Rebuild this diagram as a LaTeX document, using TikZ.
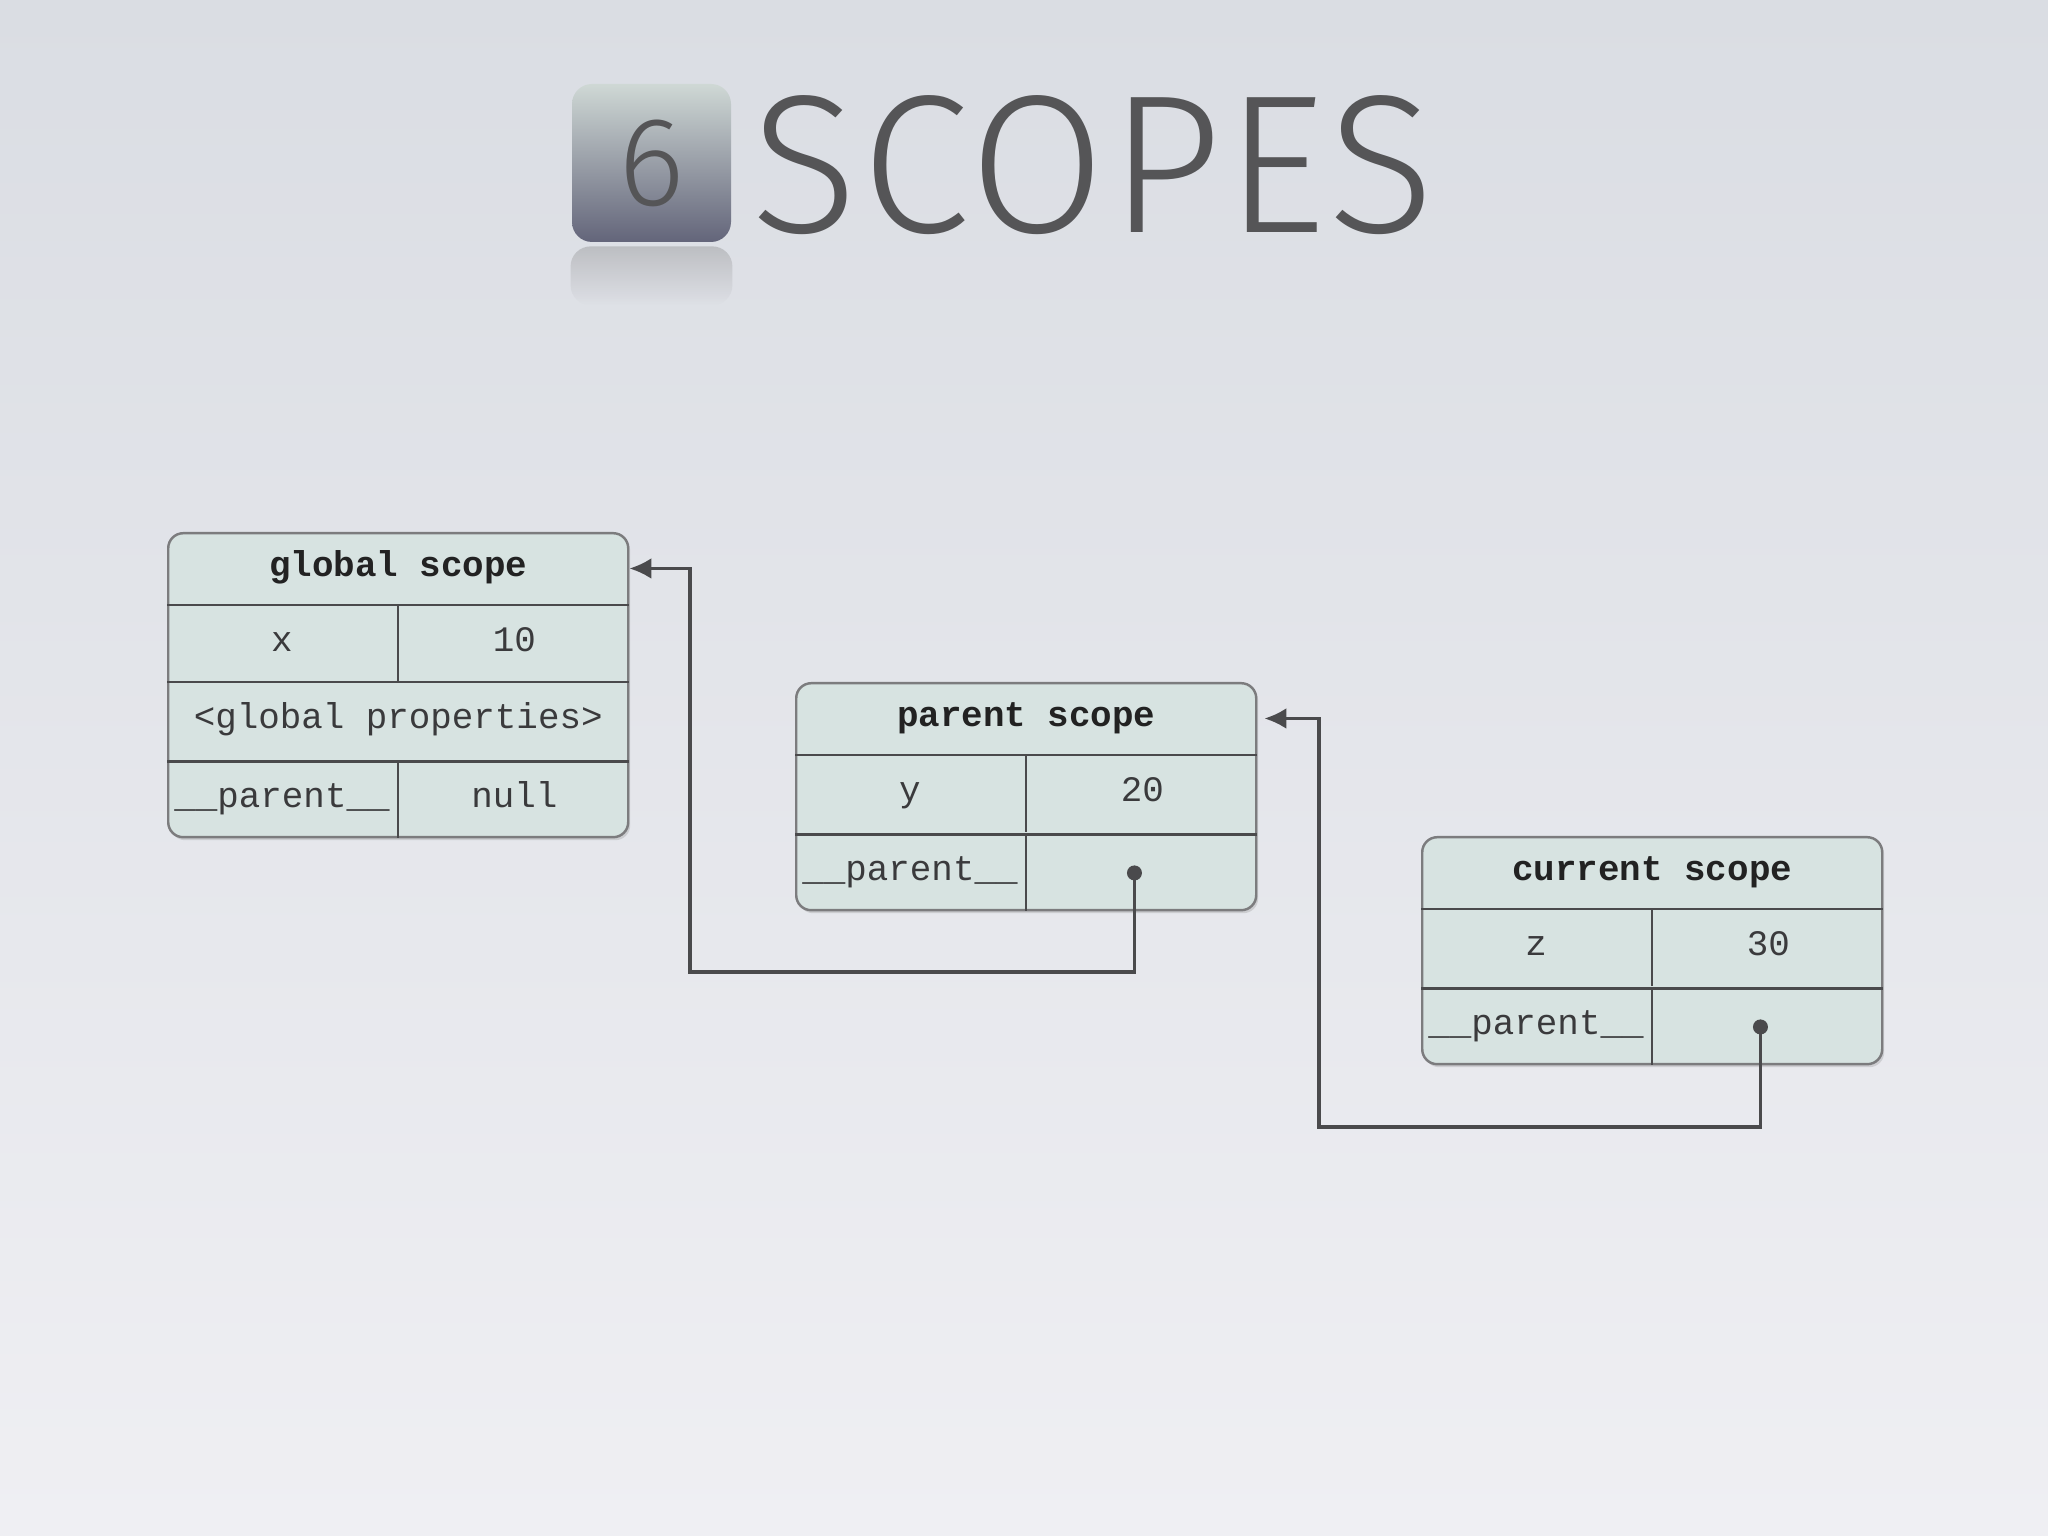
\documentclass[tikz,border=0pt]{standalone}
\usepackage{fontspec}
\setmonofont{Liberation Mono}
\newfontfamily\titlefont{Fira Sans Light}[LetterSpace=2]
\usetikzlibrary{calc,shadows,arrows.meta,positioning,fadings}
\definecolor{bgtop}{HTML}{DADDE3}
\definecolor{bgmid}{HTML}{EBECF0}
\definecolor{bgbot}{HTML}{EFEFF3}
\definecolor{boxfill}{HTML}{D7E3E1}
\definecolor{boxline}{HTML}{7C7C7E}
\definecolor{ruleline}{HTML}{4A4A4C}
\definecolor{ink}{HTML}{3A3A3C}
\definecolor{headink}{HTML}{222222}
\definecolor{heading}{HTML}{555557}
\definecolor{icontop}{HTML}{CFD8D5}
\definecolor{iconbot}{HTML}{63657A}

\begin{document}
\begin{tikzpicture}[thick]
\tikzstyle{scopebox}=[draw=boxline, fill=boxfill, line width=.7pt, rounded corners=.15cm, minimum width=4.6cm, anchor=north west, inner sep=0pt, drop shadow={opacity=.25, shadow xshift=.02cm, shadow yshift=-.03cm}]
\tikzstyle{cell}=[font=\ttfamily\fontsize{10.2}{12}\selectfont, text=ink, inner sep=0pt, text height=.65em, text depth=.2em]
\tikzstyle{head}=[cell, text=headink, font=\ttfamily\bfseries\fontsize{10.2}{12}\selectfont]
\tikzstyle{rule}=[draw=ruleline, line width=.65pt]
\tikzstyle{link}=[draw=ruleline, line width=.9pt, -{Latex[length=2.2mm,width=2.1mm]}]
\tikzstyle{dot}=[circle, fill=ruleline, inner sep=0pt, minimum size=.15cm]
\useasboundingbox (0,0) rectangle (20.48,15.36);
\shade[top color=bgtop, middle color=bgmid, bottom color=bgbot] (0,0) rectangle (20.48,15.36);

% title
\node[minimum width=1.59cm, minimum height=1.58cm, rounded corners=.2cm, top color=icontop, bottom color=iconbot, text=heading, font=\titlefont\fontsize{36}{38}\selectfont] (icon) at (6.515,13.73) {6};
\fill[gray, opacity=.35, rounded corners=.2cm, path fading=south] ($(icon.south west)+(0,-.03)$) rectangle ($(icon.south east)+(0,-.62)$);
\node[anchor=base west, inner sep=0pt, text=heading, font=\titlefont\fontsize{56}{58}\selectfont] (title) at (7.50,13.03) {SCOPES};

% scope boxes
\foreach \s/\x/\y/\h/\name/\key/\val in {g/1.67/10.04/3.04/global/x/10, p/7.95/8.54/2.27/parent/y/20, c/14.21/7.00/2.27/current/z/30}
    {
    \node[scopebox, minimum height=\h cm] (box\s) at (\x,\y) {};
    \node[head] (title\s) at ($(box\s.north)+(0,-.365)$) {\name\ scope};
    \node[cell] (key\s) at ($(box\s.north west)+(1.15,-1.115)$) {\key};
    \node[cell] (val\s) at ($(box\s.north east)+(-1.15,-1.115)$) {\val};
    \node[cell] (par\s) at ($(box\s.south west)+(1.15,.385)$) {\_\_parent\_\_};
    \node[cell] (ptr\s) at ($(box\s.south east)+(-1.15,.385)$) {};
    \draw[rule] ($(box\s.north west)+(0,-.73)$) -- ($(box\s.north east)+(0,-.73)$);
    \draw[rule] ($(box\s.south west)+(0,.77)$) -- ($(box\s.south east)+(0,.77)$);
    \draw[rule] ($(box\s.north)+(0,-.73)$) -- ($(box\s.north)+(0,-1.5)$);
    \draw[rule] ($(box\s.south)+(0,.77)$) -- (box\s.south);
    }
\draw[rule] ($(boxg.north west)+(0,-1.5)$) -- ($(boxg.north east)+(0,-1.5)$);
\node[cell] (propsg) at ($(boxg.north)+(0,-1.885)$) {<global properties>};
\node[cell] (nullg) at (ptrg) {null};
\node[dot] (dotp) at ($(ptrp)+(-.08,0)$) {};
\node[dot] (dotc) at ($(ptrc)+(-.08,0)$) {};

% parent links
\coordinate (bendg) at (6.90,5.64);
\coordinate (bendp) at (13.19,4.09);
\draw[link] (dotp.center) |- (bendg) |- (boxg.east |- titleg);
\draw[link, shorten >=.07cm] (dotc.center) |- (bendp) |- (boxp.east |- titlep);
\end{tikzpicture}
\end{document}
